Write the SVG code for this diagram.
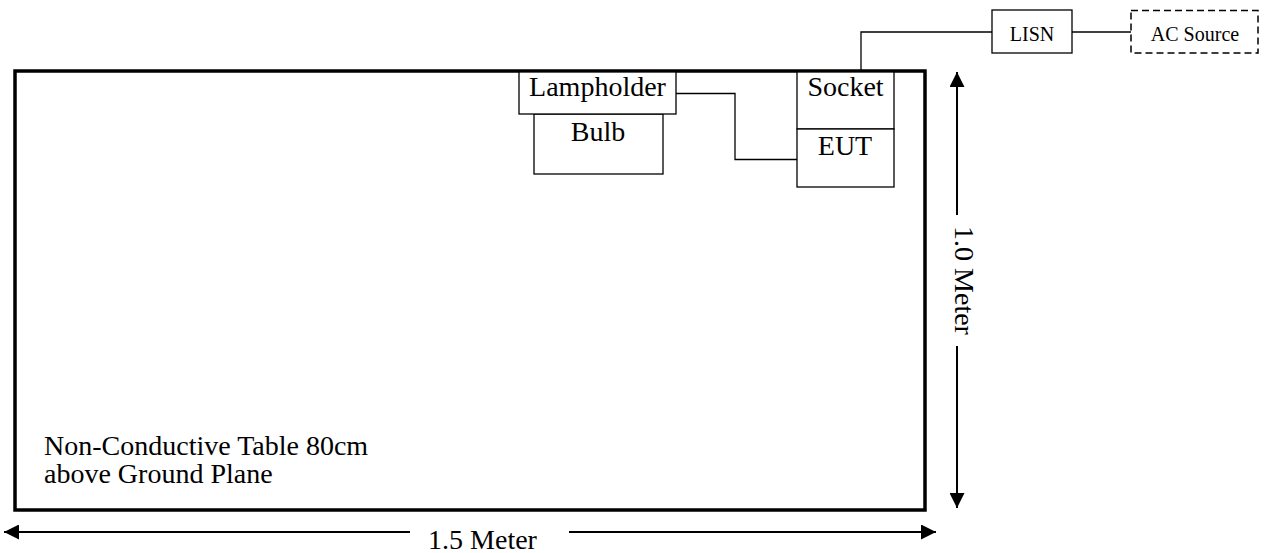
<svg xmlns="http://www.w3.org/2000/svg" width="1266" height="553" viewBox="0 0 1266 553">
  <style>
    text { font-family: "Liberation Serif", "Times New Roman", serif; fill: #000; }
    .big { font-size: 28px; }
    .small { font-size: 20px; }
    .box { fill: #fff; stroke: #000; stroke-width: 1.3; }
    .dash { fill: #fff; stroke: #000; stroke-width: 1.5; stroke-dasharray: 7 4; }
    .wire { fill: none; stroke: #000; stroke-width: 1.3; }
    .dim { fill: none; stroke: #000; stroke-width: 2; }
  </style>
  <defs>
    <marker id="arrow" markerUnits="userSpaceOnUse" markerWidth="15" markerHeight="15" refX="15" refY="7.5" orient="auto">
      <path d="M0,0 L15,7.5 L0,15 z" fill="#000"/>
    </marker>
  </defs>
  <rect width="1266" height="553" fill="#fff"/>

  <g id="table">
    <rect x="15" y="71" width="910" height="439" fill="#fff" stroke="#000" stroke-width="3.5"/>
    <text class="big" x="44" y="455">Non-Conductive Table 80cm</text>
    <text class="big" x="44" y="483">above Ground Plane</text>
  </g>

  <g id="connectors">
    <polyline class="wire" points="676,93.5 735,93.5 735,159.5 797,159.5"/>
    <polyline class="wire" points="861,71 861,32 992,32"/>
    <line class="wire" x1="1072" y1="32" x2="1131" y2="32"/>
  </g>

  <g id="bulb">
    <rect class="box" x="534" y="114" width="129" height="60"/>
    <text class="big" x="598" y="141" text-anchor="middle">Bulb</text>
  </g>
  <g id="lampholder">
    <rect class="box" x="519" y="72" width="157" height="42"/>
    <text class="big" x="597.5" y="96" text-anchor="middle">Lampholder</text>
  </g>
  <g id="socket">
    <rect class="box" x="797" y="72" width="97" height="57"/>
    <text class="big" x="845.5" y="96" text-anchor="middle">Socket</text>
  </g>
  <g id="eut">
    <rect class="box" x="797" y="129" width="97" height="58"/>
    <text class="big" x="845" y="155" text-anchor="middle">EUT</text>
  </g>
  <g id="lisn">
    <rect class="box" x="992" y="10" width="80" height="43"/>
    <text class="small" x="1032" y="41" text-anchor="middle">LISN</text>
  </g>
  <g id="ac-source">
    <rect class="dash" x="1131" y="10.5" width="127" height="42.5"/>
    <text class="small" x="1195" y="41" text-anchor="middle">AC Source</text>
  </g>

  <g id="dim-width">
    <line class="dim" x1="410" y1="532" x2="4" y2="532" marker-end="url(#arrow)"/>
    <line class="dim" x1="569" y1="532" x2="936" y2="532" marker-end="url(#arrow)"/>
    <text class="big" x="482.5" y="549" text-anchor="middle">1.5 Meter</text>
  </g>
  <g id="dim-height">
    <line class="dim" x1="957" y1="215" x2="957" y2="72" marker-end="url(#arrow)"/>
    <line class="dim" x1="957" y1="346" x2="957" y2="508" marker-end="url(#arrow)"/>
    <text class="big" transform="translate(955,280.5) rotate(90)" x="0" y="0" text-anchor="middle">1.0 Meter</text>
  </g>
</svg>
